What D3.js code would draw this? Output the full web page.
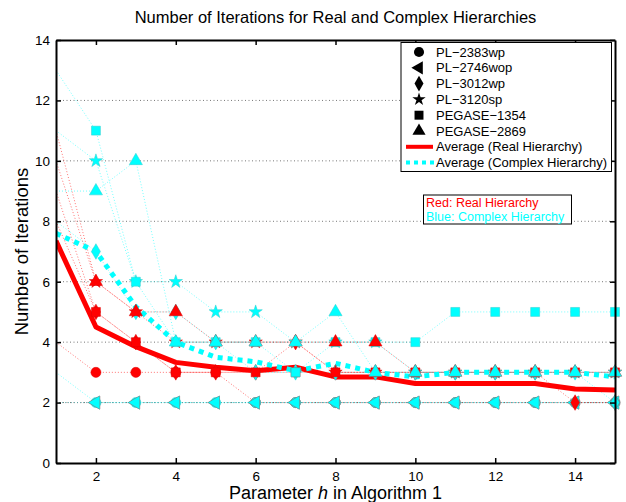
<!DOCTYPE html>
<html>
<head>
<meta charset="utf-8">
<script src="https://cdn.jsdelivr.net/npm/d3@7"></script>
<style>
  body { margin: 0; background: #fff; }
  svg { font-family: "Liberation Sans", Arial, Helvetica, sans-serif; }
</style>
</head>
<body>
<svg id="chart" width="626" height="502"></svg>
<script>
// h values (x axis)
const hValues = [1, 2, 3, 4, 5, 6, 7, 8, 9, 10, 11, 12, 13, 14, 15];

// real hierarchy (red), one array per test case
const realPL2383 = [4, 3, 3, 3, 3, 2, 2, 2, 2, 2, 2, 2, 2, 2, 2];
const realPL2746 = [2, 2, 2, 2, 2, 2, 2, 2, 2, 2, 2, 2, 2, 2, 2];
const realPL3012 = [9, 5, 4, 3, 3, 3, 4, 3, 3, 3, 3, 3, 3, 2, 2];
const realPL3120 = [11, 6, 5, 4, 4, 4, 4, 3, 3, 3, 3, 3, 3, 3, 3];
const realPEG1354 = [8, 5, 4, 3, 3, 3, 3, 3, 3, 3, 3, 3, 3, 3, 3];
const realPEG2869 = [10, 6, 5, 5, 4, 4, 4, 4, 4, 3, 3, 3, 3, 3, 3];

// complex hierarchy (cyan)
const cplxPL2383 = [3, 2, 2, 2, 2, 2, 2, 2, 2, 2, 2, 2, 2, 2, 2];
const cplxPL2746 = [2, 2, 2, 2, 2, 2, 2, 2, 2, 2, 2, 2, 2, 2, 2];
const cplxPL3012 = [8, 7, 5, 5, 4, 3, 3, 3, 3, 3, 3, 3, 3, 3, 2];
const cplxPL3120 = [11, 10, 6, 6, 5, 5, 4, 4, 4, 3, 3, 3, 3, 3, 3];
const cplxPEG1354 = [13, 11, 6, 4, 4, 4, 3, 4, 4, 4, 5, 5, 5, 5, 5];
const cplxPEG2869 = [9, 9, 10, 4, 4, 4, 4, 5, 3, 3, 3, 3, 3, 3, 3];

// averages
const realAvg = [7.35, 4.5, 3.85, 3.33, 3.17, 3.05, 3.17, 2.85, 2.85, 2.63, 2.63, 2.63, 2.63, 2.45, 2.42];
const cplxAvg = [7.6, 7.0, 5.17, 4.0, 3.5, 3.35, 3.05, 3.3, 3.0, 2.85, 3.0, 3.0, 3.0, 3.0, 2.85];

const caseNames = ['PL\u22122383wp', 'PL\u22122746wop', 'PL\u22123012wp', 'PL\u22123120sp', 'PEGASE\u22121354', 'PEGASE\u22122869'];
const caseMarkers = ['circle', 'left', 'diamond', 'star', 'square', 'triangle'];
const realSeries = [realPL2383, realPL2746, realPL3012, realPL3120, realPEG1354, realPEG2869];
const cplxSeries = [cplxPL2383, cplxPL2746, cplxPL3012, cplxPL3120, cplxPEG1354, cplxPEG2869];
const yTicks = [0, 2, 4, 6, 8, 10, 12, 14];
const xTicks = [2, 4, 6, 8, 10, 12, 14];
const gridLines = [2, 4, 6, 8, 10, 12];

const RED = '#ff0000';
const CYAN = '#00ffff';
const W = 626, H = 502;
const m = {left: 56, right: 11, top: 40, bottom: 39};

const svg = d3.select('#chart');
const x = d3.scaleLinear().domain([1, 15]).range([m.left, W - m.right]);
const y = d3.scaleLinear().domain([0, 14]).range([H - m.bottom, m.top]);

svg.append('clipPath').attr('id', 'plotclip').append('rect')
  .attr('x', m.left).attr('y', m.top)
  .attr('width', W - m.left - m.right).attr('height', H - m.top - m.bottom);

// horizontal dotted grid
svg.append('g').selectAll('line').data(gridLines).enter().append('line')
  .attr('x1', m.left).attr('x2', W - m.right)
  .attr('y1', d => y(d)).attr('y2', d => y(d))
  .attr('stroke', '#777').attr('stroke-width', 1).attr('stroke-dasharray', '1,2.5');

function markerPath(kind) {
  // sizes roughly match the matlab markers
  switch (kind) {
    case 'circle': return d3.symbol(d3.symbolCircle, 80)();
    case 'left': return d3.symbol(d3.symbolTriangle, 75)();
    case 'diamond': return d3.symbol(d3.symbolDiamond, 70)();
    case 'star': return d3.symbol(d3.symbolStar, 55)();
    case 'square': return d3.symbol(d3.symbolSquare, 80)();
    case 'triangle': return d3.symbol(d3.symbolTriangle, 75)();
  }
}
function markerRot(kind) { return kind == 'left' ? ' rotate(-90)' : ''; }

const plot = svg.append('g').attr('clip-path', 'url(#plotclip)');
const marks = svg.append('g');
const line = d3.line().x((d, i) => x(hValues[i])).y(d => y(d));

// draw per case: real first, then complex (that is how overlaps look in the figure)
caseMarkers.forEach((kind, k) => {
  [[realSeries[k], RED], [cplxSeries[k], CYAN]].forEach(([vals, col]) => {
    plot.append('path').datum(vals)
      .attr('d', line).attr('fill', 'none')
      .attr('stroke', col).attr('stroke-opacity', 0.55)
      .attr('stroke-width', 1).attr('stroke-dasharray', '1,2');
    // markers at h = 1 are not shown in the figure
    const pts = vals.map((v, i) => ({h: hValues[i], v: v})).filter(d => d.h > 1);
    marks.append('g').selectAll('path').data(pts).enter().append('path')
      .attr('d', markerPath(kind))
      .attr('transform', d => `translate(${x(d.h)},${y(d.v)})` + markerRot(kind))
      .attr('fill', col)
      .attr('stroke', col == CYAN ? '#3cc' : '#d00').attr('stroke-width', 0.5);
  });
});

// average lines
plot.append('path').datum(realAvg).attr('d', line).attr('fill', 'none')
  .attr('stroke', RED).attr('stroke-width', 5).attr('stroke-linejoin', 'round');
plot.append('path').datum(cplxAvg).attr('d', line).attr('fill', 'none')
  .attr('stroke', CYAN).attr('stroke-width', 5).attr('stroke-dasharray', '5,5');

// axes with inward ticks on all four sides
const fmt = d3.format('d');
svg.append('g').attr('class', 'axis').attr('transform', `translate(0,${H - m.bottom})`)
  .call(d3.axisBottom(x).tickValues(xTicks).tickFormat(fmt).tickSizeInner(-5).tickSizeOuter(0).tickPadding(8));
svg.append('g').attr('class', 'axis').attr('transform', `translate(${m.left},0)`)
  .call(d3.axisLeft(y).tickValues(yTicks).tickFormat(fmt).tickSizeInner(-5).tickSizeOuter(0).tickPadding(6));
svg.append('g').attr('class', 'axis').attr('transform', `translate(0,${m.top})`)
  .call(d3.axisTop(x).tickValues(xTicks).tickFormat('').tickSizeInner(-5).tickSizeOuter(0));
svg.append('g').attr('class', 'axis').attr('transform', `translate(${W - m.right},0)`)
  .call(d3.axisRight(y).tickValues(yTicks).tickFormat('').tickSizeInner(-5).tickSizeOuter(0));
svg.selectAll('.axis path').attr('stroke', '#000').attr('stroke-width', 2);
svg.selectAll('.axis line').attr('stroke', '#000').attr('stroke-width', 1.5);
svg.selectAll('.axis text').attr('font-size', 13.5).attr('fill', '#000')
  .attr('font-family', '"Liberation Sans", Arial, sans-serif');

// titles
svg.append('text').attr('x', (m.left + W - m.right) / 2).attr('y', 23)
  .attr('text-anchor', 'middle').attr('font-size', 16.5)
  .text('Number of Iterations for Real and Complex Hierarchies');
const xl = svg.append('text').attr('x', (m.left + W - m.right) / 2).attr('y', 499)
  .attr('text-anchor', 'middle').attr('font-size', 18);
xl.append('tspan').text('Parameter ');
xl.append('tspan').attr('font-style', 'italic').text('h');
xl.append('tspan').text(' in Algorithm 1');
svg.append('text').attr('transform', `translate(28,${(m.top + H - m.bottom) / 2}) rotate(-90)`)
  .attr('text-anchor', 'middle').attr('font-size', 18.5).text('Number of Iterations');

// legend
const lg = svg.append('g');
lg.append('rect').attr('x', 401).attr('y', 42.5).attr('width', 210.5).attr('height', 129)
  .attr('fill', '#fff').attr('stroke', '#000').attr('stroke-width', 1);
const rowY = i => 52 + i * 15.8;
caseNames.forEach((name, i) => {
  lg.append('path').attr('d', markerPath(caseMarkers[i]))
    .attr('transform', `translate(419,${rowY(i)})` + markerRot(caseMarkers[i]))
    .attr('fill', '#000');
  lg.append('text').attr('x', 436).attr('y', rowY(i)).attr('dy', '0.36em')
    .attr('font-size', 13).text(name);
});
lg.append('line').attr('x1', 406).attr('x2', 433).attr('y1', rowY(6)).attr('y2', rowY(6))
  .attr('stroke', RED).attr('stroke-width', 4);
lg.append('text').attr('x', 436).attr('y', rowY(6)).attr('dy', '0.36em')
  .attr('font-size', 13).text('Average (Real Hierarchy)');
lg.append('line').attr('x1', 406).attr('x2', 434).attr('y1', rowY(7)).attr('y2', rowY(7))
  .attr('stroke', CYAN).attr('stroke-width', 4).attr('stroke-dasharray', '4,4');
lg.append('text').attr('x', 436).attr('y', rowY(7)).attr('dy', '0.36em')
  .attr('font-size', 13).text('Average (Complex Hierarchy)');

// note box
const nb = svg.append('g');
nb.append('rect').attr('x', 423.5).attr('y', 195).attr('width', 148).attr('height', 29)
  .attr('fill', '#fff').attr('stroke', '#000').attr('stroke-width', 1);
nb.append('text').attr('x', 426).attr('y', 202.5).attr('dy', '0.36em').attr('font-size', 12.5)
  .attr('fill', RED).text('Red: Real Hierarchy');
nb.append('text').attr('x', 426).attr('y', 216.5).attr('dy', '0.36em').attr('font-size', 12.5)
  .attr('fill', CYAN).text('Blue: Complex Hierarchy');
</script>
</body>
</html>
